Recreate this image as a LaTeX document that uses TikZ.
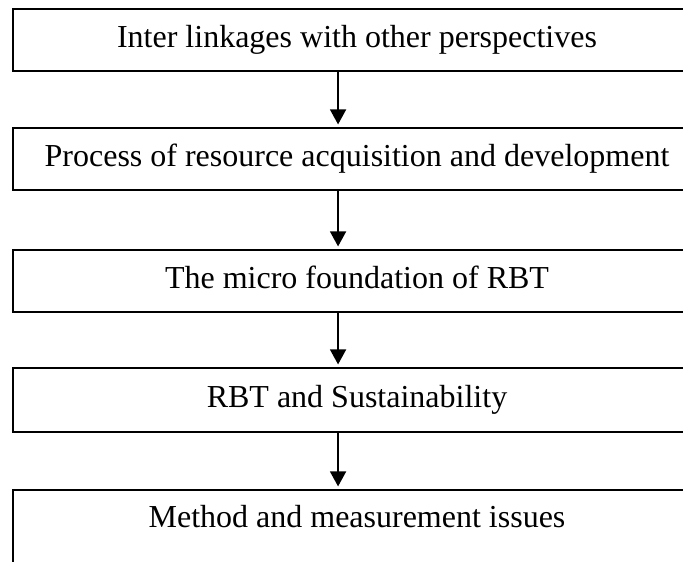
\documentclass[tikz,border=0pt]{standalone}
\usepackage{fontspec}
\setmainfont{Liberation Serif}
\usetikzlibrary{arrows.meta,positioning}

\begin{document}
\begin{tikzpicture}[font=\fontsize{12}{14}\selectfont]

% Styles
\tikzset{
  topic/.style={
    draw,
    line width=0.75pt,
    rectangle,
    minimum width=258pt,
    minimum height=23.25pt,
    text height=8.4pt,
    text depth=2.6pt,
    align=center
  },
  lastbox/.style={
    topic,
    minimum height=30pt
  },
  flow/.style={
    -{Triangle[width=6pt,length=5.6pt]},
    line width=0.55pt,
    shorten >=1pt
  }
}

% Page frame
\useasboundingbox (0,0) rectangle (256.125pt,-210.75pt);
\clip (0,0) rectangle (256.125pt,-210.75pt);

% Topic boxes
\node[topic] (links) at (133.875pt,-15pt) {Inter linkages with other perspectives};
\node[topic, below=20.65pt of links] (process) {Process of resource acquisition and development};
\node[topic, below=21.75pt of process] (micro) {The micro foundation of RBT};
\node[topic, below=20.25pt of micro, minimum height=24pt] (sustain) {RBT and Sustainability};
\node[lastbox, below=21pt of sustain] (method) {};
\node[anchor=base] at ([yshift=-14.6pt]method.north) {Method and measurement issues};

% Arrows
\draw[flow] ([xshift=-7.1pt]links.south) -- ([xshift=-7.1pt]process.north);
\draw[flow] ([xshift=-7.1pt]process.south) -- ([xshift=-7.1pt]micro.north);
\draw[flow] ([xshift=-7.1pt]micro.south) -- ([xshift=-7.1pt]sustain.north);
\draw[flow] ([xshift=-7.1pt]sustain.south) -- ([xshift=-7.1pt]method.north);

\end{tikzpicture}
\end{document}
